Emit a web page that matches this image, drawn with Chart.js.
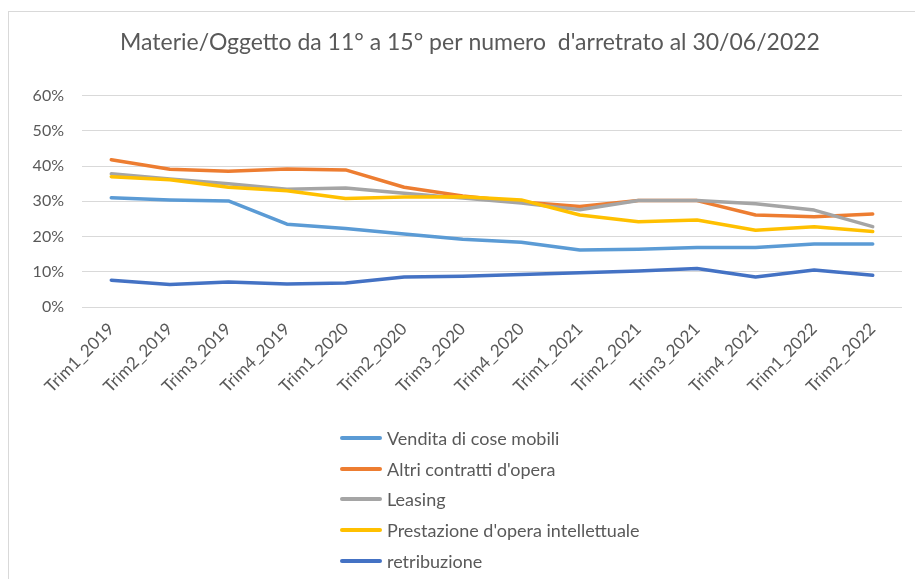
<!DOCTYPE html>
<html>
<head>
<meta charset="utf-8">
<title>Materie/Oggetto da 11° a 15°</title>
<script src="https://cdn.jsdelivr.net/npm/chart.js@4.4.1/dist/chart.umd.min.js"></script>
<style>
    html, body { margin: 0; padding: 0; background: #fff; }
    #wrap { position: relative; width: 915px; height: 579px; overflow: hidden; }
    #frame { position: absolute; left: 8px; top: 11px; width: 1000px; height: 700px;
             border-left: 1px solid #d9d9d9; border-top: 1px solid #d9d9d9; }
    #chart { position: absolute; left: 0; top: 0; }
    #legend { position: absolute; left: 340px; top: 423px; font-family: Lato, sans-serif;
              font-size: 18px; color: #595959; }
    #legend ul { list-style: none; margin: 0; padding: 0; }
    #legend li { display: flex; align-items: center; height: 30.6px; white-space: nowrap; }
    #legend .sw { width: 42px; height: 4px; border-radius: 2px; margin-right: 5px; }
</style>
</head>
<body>
<div id="wrap">
    <div id="frame"></div>
    <canvas id="chart" width="915" height="579"></canvas>
    <div id="legend"></div>
</div>
<script>
var quarters = ['Trim1_2019', 'Trim2_2019', 'Trim3_2019', 'Trim4_2019',
                'Trim1_2020', 'Trim2_2020', 'Trim3_2020', 'Trim4_2020',
                'Trim1_2021', 'Trim2_2021', 'Trim3_2021', 'Trim4_2021',
                'Trim1_2022', 'Trim2_2022'];

// percentuali
var vendita      = [31.0, 30.4, 30.1, 23.5, 22.3, 20.7, 19.2, 18.4, 16.2, 16.4, 16.9, 16.9, 17.9, 17.9];
var altri        = [41.8, 39.1, 38.5, 39.2, 38.9, 34.0, 31.5, 29.8, 28.5, 30.2, 30.2, 26.1, 25.6, 26.4];
var leasing      = [37.8, 36.3, 35.0, 33.4, 33.8, 32.3, 30.9, 29.5, 27.6, 30.2, 30.2, 29.3, 27.5, 22.8];
var prestazione  = [37.0, 36.1, 34.0, 33.0, 30.8, 31.2, 31.3, 30.4, 26.1, 24.2, 24.7, 21.8, 22.8, 21.4];
var retribuzione = [7.6, 6.4, 7.1, 6.5, 6.8, 8.5, 8.7, 9.2, 9.7, 10.2, 10.9, 8.5, 10.5, 9.0];

var seriesNames  = ['Vendita di cose mobili', "Altri contratti d'opera", 'Leasing',
                    "Prestazione d'opera intellettuale", 'retribuzione'];
var seriesData   = [vendita, altri, leasing, prestazione, retribuzione];
var seriesColors = ['#5b9bd5', '#ed7d31', '#a5a5a5', '#ffc000', '#4472c4'];

var yTicks = [0, 10, 20, 30, 40, 50, 60];

var textColor = '#595959';

// html legend, one row per series
var htmlLegend = {
    id: 'htmlLegend',
    afterLayout: function (chart) {
        // title centred a bit right of the canvas middle, as in the original
        if (chart.titleBlock) { chart.titleBlock.left = 38; chart.titleBlock.right = 902; }
    },
    afterUpdate: function (chart) {
        var box = document.getElementById('legend');
        var items = chart.options.plugins.legend.labels.generateLabels(chart);
        items.sort(function (a, b) { return a.datasetIndex - b.datasetIndex; });
        var ul = document.createElement('ul');
        items.forEach(function (item) {
            var li = document.createElement('li');
            var sw = document.createElement('span');
            sw.className = 'sw';
            sw.style.background = item.strokeStyle;
            var txt = document.createElement('span');
            txt.textContent = item.text;
            li.appendChild(sw);
            li.appendChild(txt);
            ul.appendChild(li);
        });
        box.innerHTML = '';
        box.appendChild(ul);
    }
};

var datasets = seriesNames.map(function (name, i) {
    return {
        label: name,
        data: seriesData[i],
        borderColor: seriesColors[i],
        backgroundColor: seriesColors[i],
        borderWidth: 3.5,
        borderCapStyle: 'round',
        borderJoinStyle: 'round',
        pointRadius: 0,
        tension: 0,
        fill: false,
        order: seriesNames.length - i // later series on top, like Excel
    };
});

new Chart(document.getElementById('chart'), {
    type: 'line',
    data: { labels: quarters, datasets: datasets },
    options: {
        responsive: false,
        animation: false,
        layout: { padding: { left: 0, right: 13, top: 0, bottom: 142 } },
        plugins: {
            legend: { display: false },
            tooltip: { enabled: false },
            title: {
                display: true,
                text: "Materie/Oggetto da 11° a 15° per numero  d'arretrato al 30/06/2022",
                color: textColor,
                font: { family: 'Lato', size: 23, weight: 'normal' },
                padding: { top: 29, bottom: 39 }
            }
        },
        scales: {
            x: {
                offset: true,
                grid: { display: false },
                border: { display: false },
                ticks: {
                    color: textColor,
                    font: { family: 'Lato', size: 17 },
                    minRotation: 45,
                    maxRotation: 45,
                    padding: 4
                },
                afterFit: function (scale) { scale.height = 130; }
            },
            y: {
                min: yTicks[0],
                max: yTicks[yTicks.length - 1],
                grid: { color: '#d9d9d9', drawTicks: false },
                border: { display: false },
                ticks: {
                    stepSize: yTicks[1] - yTicks[0],
                    color: textColor,
                    font: { family: 'Lato', size: 16 },
                    padding: 18,
                    callback: function (v) { return v + '%'; }
                },
                afterFit: function (scale) { scale.width = 82; }
            }
        }
    },
    plugins: [htmlLegend]
});
</script>
</body>
</html>
